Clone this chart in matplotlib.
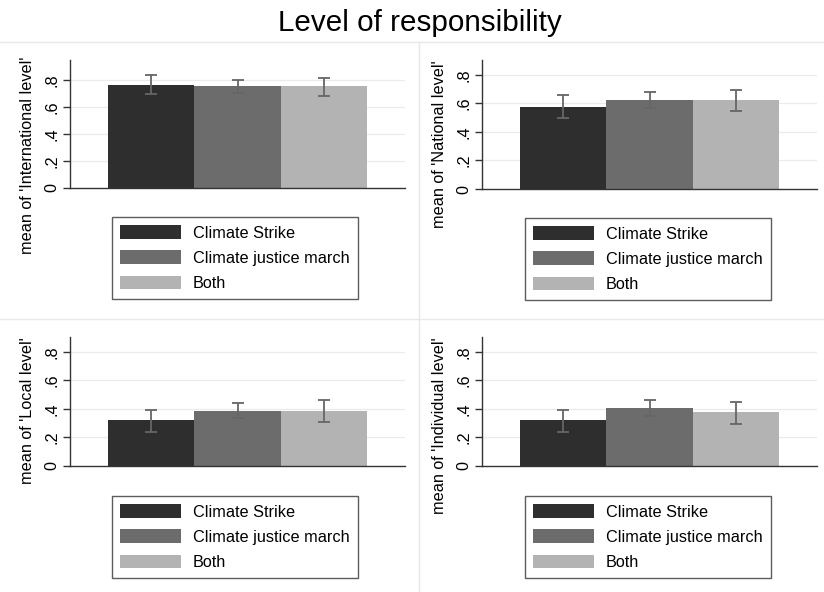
import matplotlib
matplotlib.use("Agg")
import matplotlib.pyplot as plt
from matplotlib.lines import Line2D
from matplotlib.patches import Patch

plt.rcParams['font.family'] = ['Liberation Sans', 'DejaVu Sans']

title = "Level of responsibility"
groups = ["Climate Strike", "Climate justice march", "Both"]
colors = ["#2e2e2e", "#6c6c6c", "#b3b3b3"]
panels = ["International level", "National level", "Local level", "Individual level"]

international_mean = [0.763, 0.752, 0.752]
international_lo = [0.694, 0.700, 0.684]
international_hi = [0.837, 0.803, 0.818]

national_mean = [0.578, 0.623, 0.623]
national_lo = [0.499, 0.567, 0.550]
national_hi = [0.660, 0.679, 0.697]

local_mean = [0.324, 0.389, 0.389]
local_lo = [0.239, 0.335, 0.307]
local_hi = [0.394, 0.443, 0.460]

individual_mean = [0.324, 0.406, 0.378]
individual_lo = [0.239, 0.350, 0.298]
individual_hi = [0.394, 0.462, 0.448]

yticks = [0, 0.2, 0.4, 0.6, 0.8]
yticklabels = ["0", ".2", ".4", ".6", ".8"]
ymax = [0.948, 0.905, 0.905, 0.905]

means = [international_mean, national_mean, local_mean, individual_mean]
los = [international_lo, national_lo, local_lo, individual_lo]
his = [international_hi, national_hi, local_hi, individual_hi]

W, H = 824, 592
fig = plt.figure(figsize=(W / 100, H / 100), dpi=100)
fig.patch.set_facecolor("white")

FS = 11.7

def px_axes(left, top, right, bottom):
    return fig.add_axes([left / W, 1 - bottom / H, (right - left) / W, (bottom - top) / H])

# axes boxes in pixels: (left, top, right, bottom)
boxes = [(70, 60, 405, 188), (482, 60, 817, 189), (70, 337, 405, 466), (482, 337, 817, 466)]
legend_boxes = [(112, 217), (525, 218), (112, 496), (525, 496)]
label_x = [28, 440, 28, 440]
label_top = [57, 60, 337, 337]

bar_w = 0.258
x0 = 0.113

for i in range(4):
    ax = px_axes(*boxes[i])
    xs = [x0 + bar_w / 2 + bar_w * k for k in range(3)]
    m = means[i]
    yerr = [[m[k] - los[i][k] for k in range(3)], [his[i][k] - m[k] for k in range(3)]]
    ax.bar(xs, m, width=bar_w, color=colors, edgecolor="none", zorder=2)
    ax.errorbar(xs, m, yerr=yerr, fmt="none", ecolor="#666666", elinewidth=1.3,
                capsize=4.5, capthick=1.3, zorder=3)
    ax.set_xlim(0, 1)
    ax.set_ylim(0, ymax[i])
    ax.set_yticks(yticks)
    ax.set_yticklabels(yticklabels, rotation=90, va="center", fontsize=FS)
    for y in yticks[1:]:
        ax.axhline(y, color="#ebebeb", lw=0.9, zorder=1)
    ax.set_xticks([])
    for s in ["top", "right"]:
        ax.spines[s].set_visible(False)
    for s in ["left", "bottom"]:
        ax.spines[s].set_color("#333333")
        ax.spines[s].set_linewidth(1.0)
    ax.tick_params(axis="y", length=5.3, width=1.0, color="#333333", pad=2)
    fig.text(label_x[i] / W, 1 - label_top[i] / H, "mean of '" + panels[i] + "'",
             rotation=90, ha="center", va="top", fontsize=FS)
    handles = [Patch(facecolor=c, edgecolor="none") for c in colors]
    lx, ly = legend_boxes[i]
    leg = ax.legend(handles, groups, loc="upper left",
                    bbox_to_anchor=(lx / W, 1 - ly / H), bbox_transform=fig.transFigure,
                    fontsize=FS, frameon=True, fancybox=False, handlelength=3.75,
                    handleheight=0.92, handletextpad=0.72, labelspacing=0.6,
                    borderpad=0.5, borderaxespad=0)
    leg.get_frame().set_edgecolor("#333333")
    leg.get_frame().set_linewidth(1.0)

# panel separator lines
lc = "#e8e8e8"
fig.add_artist(Line2D([0, 1], [1 - 42 / H, 1 - 42 / H], color=lc, lw=1, transform=fig.transFigure))
fig.add_artist(Line2D([0, 1], [1 - 319 / H, 1 - 319 / H], color=lc, lw=1, transform=fig.transFigure))
fig.add_artist(Line2D([419 / W, 419 / W], [0, 1 - 42 / H], color=lc, lw=1, transform=fig.transFigure))

fig.text(420 / W, 1 - 23 / H, title, ha="center", va="center", fontsize=21.3)

fig.savefig("out.png", dpi=100, facecolor="white")
